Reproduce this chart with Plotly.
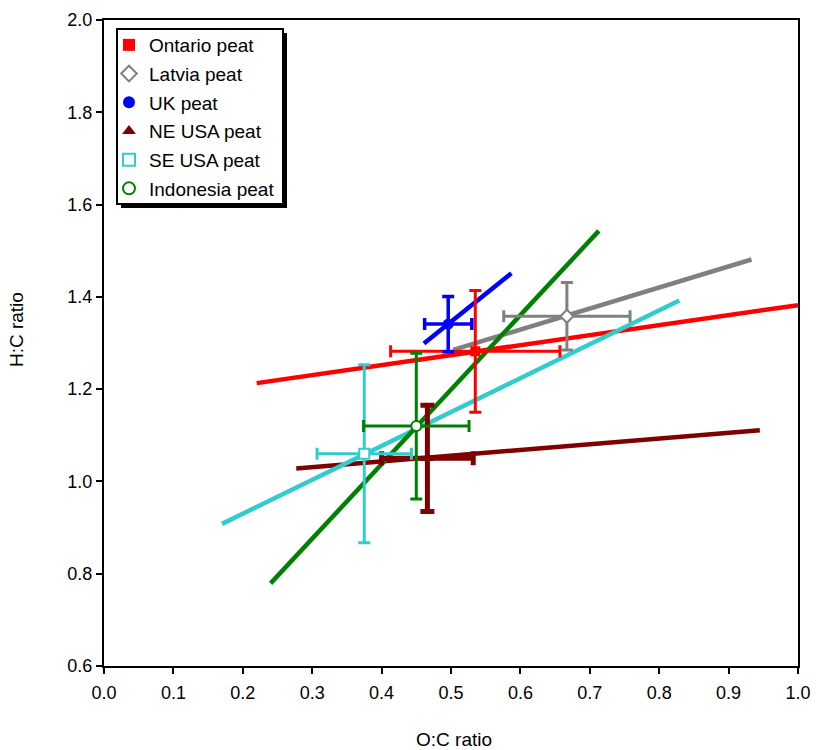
import plotly.graph_objects as go

# ---- data ----
names = ["Ontario peat", "Latvia peat", "UK peat", "NE USA peat", "SE USA peat", "Indonesia peat"]
x_mean = [0.535, 0.667, 0.496, 0.466, 0.375, 0.450]
y_mean = [1.282, 1.358, 1.341, 1.050, 1.060, 1.120]
x_err = [0.122, 0.091, 0.034, 0.066, 0.068, 0.076]
y_err = [0.132, 0.073, 0.060, 0.115, 0.193, 0.158]
line_x = [[0.220, 1.000], [0.503, 0.933], [0.461, 0.587], [0.277, 0.945], [0.170, 0.829], [0.240, 0.713]]
line_y = [[1.213, 1.382], [1.285, 1.481], [1.299, 1.451], [1.028, 1.111], [0.908, 1.392], [0.779, 1.543]]
x_ticks = [0.0, 0.1, 0.2, 0.3, 0.4, 0.5, 0.6, 0.7, 0.8, 0.9, 1.0]
y_ticks = [0.6, 0.8, 1.0, 1.2, 1.4, 1.6, 1.8, 2.0]

# ---- styles ----
colors = ["#FF0000", "#808080", "#0000FF", "#7F0000", "#33CCCC", "#008000"]
symbols = ["square", "diamond", "circle", "triangle-up", "square", "circle"]
filled = [True, False, True, True, False, False]
msize = [10, 10, 11, 11, 10, 10]
err_w = [3, 3, 3.5, 5, 3, 3]
cap_w = [6, 6, 6, 7, 6, 6]

FONT = "Liberation Sans, Arial, sans-serif"

W, H = 817, 750
ML, MR, MT, MB = 104, 19, 20, 84
PW, PH = W - ML - MR, H - MT - MB


def px2paper(px, py):
    return (px - ML) / PW, 1 - (py - MT) / PH


fig = go.Figure()

for i in range(len(names)):
    fig.add_trace(go.Scatter(
        x=line_x[i], y=line_y[i], mode="lines",
        line=dict(color=colors[i], width=4.5),
        showlegend=False, hoverinfo="skip"))

for i in range(len(names)):
    fig.add_trace(go.Scatter(
        x=[x_mean[i]], y=[y_mean[i]], mode="markers", name=names[i],
        legendgroup=f"g{i}",
        marker=dict(symbol=symbols[i], size=msize[i],
                    color=colors[i] if filled[i] else "white",
                    line=dict(color=colors[i], width=0 if filled[i] else 2)),
        error_x=dict(type="data", array=[x_err[i]], color=colors[i],
                     thickness=err_w[i], width=cap_w[i]),
        error_y=dict(type="data", array=[y_err[i]], color=colors[i],
                     thickness=err_w[i], width=cap_w[i]),
    ))

axis_common = dict(
    showline=True, linecolor="black", linewidth=2, mirror=True,
    ticks="outside", ticklen=6, tickwidth=1.5, tickcolor="black",
    showgrid=False, zeroline=False, automargin=False,
    tickfont=dict(family=FONT, size=18, color="black"),
)

# legend frame with drop shadow (pixel box of the reference legend)
bx0, by0 = px2paper(117, 29)
bx1, by1 = px2paper(283, 204)
sx0, sy0 = px2paper(121, 33)
sx1, sy1 = px2paper(287, 208)
shapes = [
    dict(type="rect", xref="paper", yref="paper", x0=sx0, y0=sy0, x1=sx1, y1=sy1,
         fillcolor="black", line=dict(width=0), layer="above"),
    dict(type="rect", xref="paper", yref="paper", x0=bx0, y0=by0, x1=bx1, y1=by1,
         fillcolor="white", line=dict(color="black", width=2), layer="above"),
]

lx, ly = px2paper(109, 26)

fig.update_layout(
    width=W, height=H,
    margin=dict(l=ML, r=MR, t=MT, b=MB),
    paper_bgcolor="white", plot_bgcolor="white",
    xaxis=dict(range=[0, 1.0], tickvals=x_ticks, ticklabelstandoff=3,
               ticktext=[f"{v:.1f}" for v in x_ticks], **axis_common),
    yaxis=dict(range=[0.6, 2.0], tickvals=y_ticks,
               ticktext=[f"{v:.1f}" for v in y_ticks], **axis_common),
    legend=dict(x=lx, y=ly, xanchor="left", yanchor="top",
                bgcolor="rgba(0,0,0,0)", borderwidth=0,
                font=dict(family=FONT, size=19, color="black"),
                itemsizing="constant", tracegroupgap=1),
    showlegend=True,
    shapes=shapes,
    annotations=[
        dict(text="O:C ratio", xref="paper", yref="paper", x=0.505,
             y=px2paper(0, 739)[1],
             xanchor="center", yanchor="middle", showarrow=False,
             font=dict(family=FONT, size=19, color="black")),
        dict(text="H:C ratio", xref="paper", yref="paper",
             x=px2paper(16, 0)[0], y=0.52,
             xanchor="center", yanchor="middle", showarrow=False, textangle=-90,
             font=dict(family=FONT, size=19, color="black")),
    ],
)

fig.write_html("out.html")
